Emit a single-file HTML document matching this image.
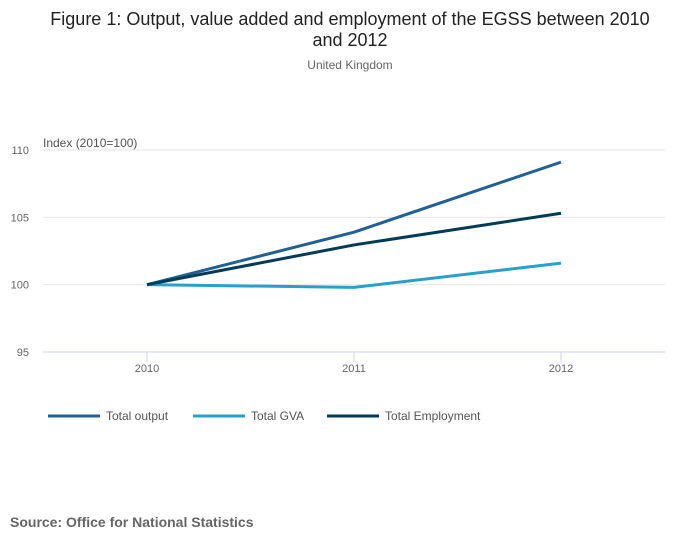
<!DOCTYPE html>
<html><head><meta charset="utf-8"><style>
body{margin:0;background:#fff;font-family:"Liberation Sans",sans-serif;}
#wrap{position:relative;width:700px;height:549px;overflow:hidden;}
</style></head><body>
<div id="wrap">
<svg id="chart" width="700" height="549">
<text x="350" y="25" text-anchor="middle" font-size="18" fill="#222">Figure 1: Output, value added and employment of the EGSS between 2010</text>
<text x="350" y="46" text-anchor="middle" font-size="18" fill="#222">and 2012</text>
<text x="350" y="69" text-anchor="middle" font-size="12" fill="#666">United Kingdom</text>
<text x="43" y="147" font-size="12" fill="#555">Index (2010=100)</text>
<g id="grid"></g><g id="series"></g><g id="legend"></g>
<text x="10" y="527" font-size="14" font-weight="bold" fill="#666">Source: Office for National Statistics</text>
</svg>
</div>
<script>
const categories=["2010","2011","2012"];
const yTicks=[95,100,105,110];
const seriesNames=["Total output","Total GVA","Total Employment"];
const outputValues=[100,103.9,109.1];
const gvaValues=[100,99.8,101.6];
const employmentValues=[100,102.95,105.3];
const colors=["#206095","#27a0cc","#003c57"];
const NS="http://www.w3.org/2000/svg";
function y(v){return 352-(v-95)*(202/15);}
function x(i){return 147+i*207;}
function mk(tag,attrs,parent){const e=document.createElementNS(NS,tag);for(const k in attrs)e.setAttribute(k,attrs[k]);parent.appendChild(e);return e;}
const grid=document.getElementById('grid');
yTicks.forEach(t=>{
 const l=mk('line',{x1:43,x2:665,y1:y(t),y2:y(t),stroke:t===95?'#ccd6e6':'#e6e6e6','stroke-width':1},grid);
 
 
 const tx=mk('text',{x:29,y:y(t)+4,'text-anchor':'end','font-size':11,fill:'#666'},grid);
 tx.textContent=t;
 
 
});
categories.forEach((c,i)=>{
 const tk=mk('line',{x1:x(i),x2:x(i),y1:352,y2:362,stroke:'#ccd6e6'},grid);
 
 
 const tx=mk('text',{x:x(i),y:372,'text-anchor':'middle','font-size':11,fill:'#666'},grid);
 tx.textContent=c;
 
 
});
const all=[outputValues,gvaValues,employmentValues];
const sg=document.getElementById('series');
all.forEach((vals,s)=>{
 const p=mk('polyline',{points:vals.map((v,i)=>x(i)+','+y(v)).join(' '),fill:'none',stroke:colors[s],'stroke-width':3,'stroke-linejoin':'round'},sg);
 
 
});
const lg=document.getElementById('legend');
const lx=[48,193,327];
seriesNames.forEach((n,s)=>{
 const g=mk('g',{},lg);
 
 
 mk('line',{x1:lx[s],x2:lx[s]+52,y1:416,y2:416,stroke:colors[s],'stroke-width':3},g);
 const t=mk('text',{x:lx[s]+58,y:420,'font-size':12,fill:'#555'},g);
 t.textContent=n;
});
</script>
</body></html>
